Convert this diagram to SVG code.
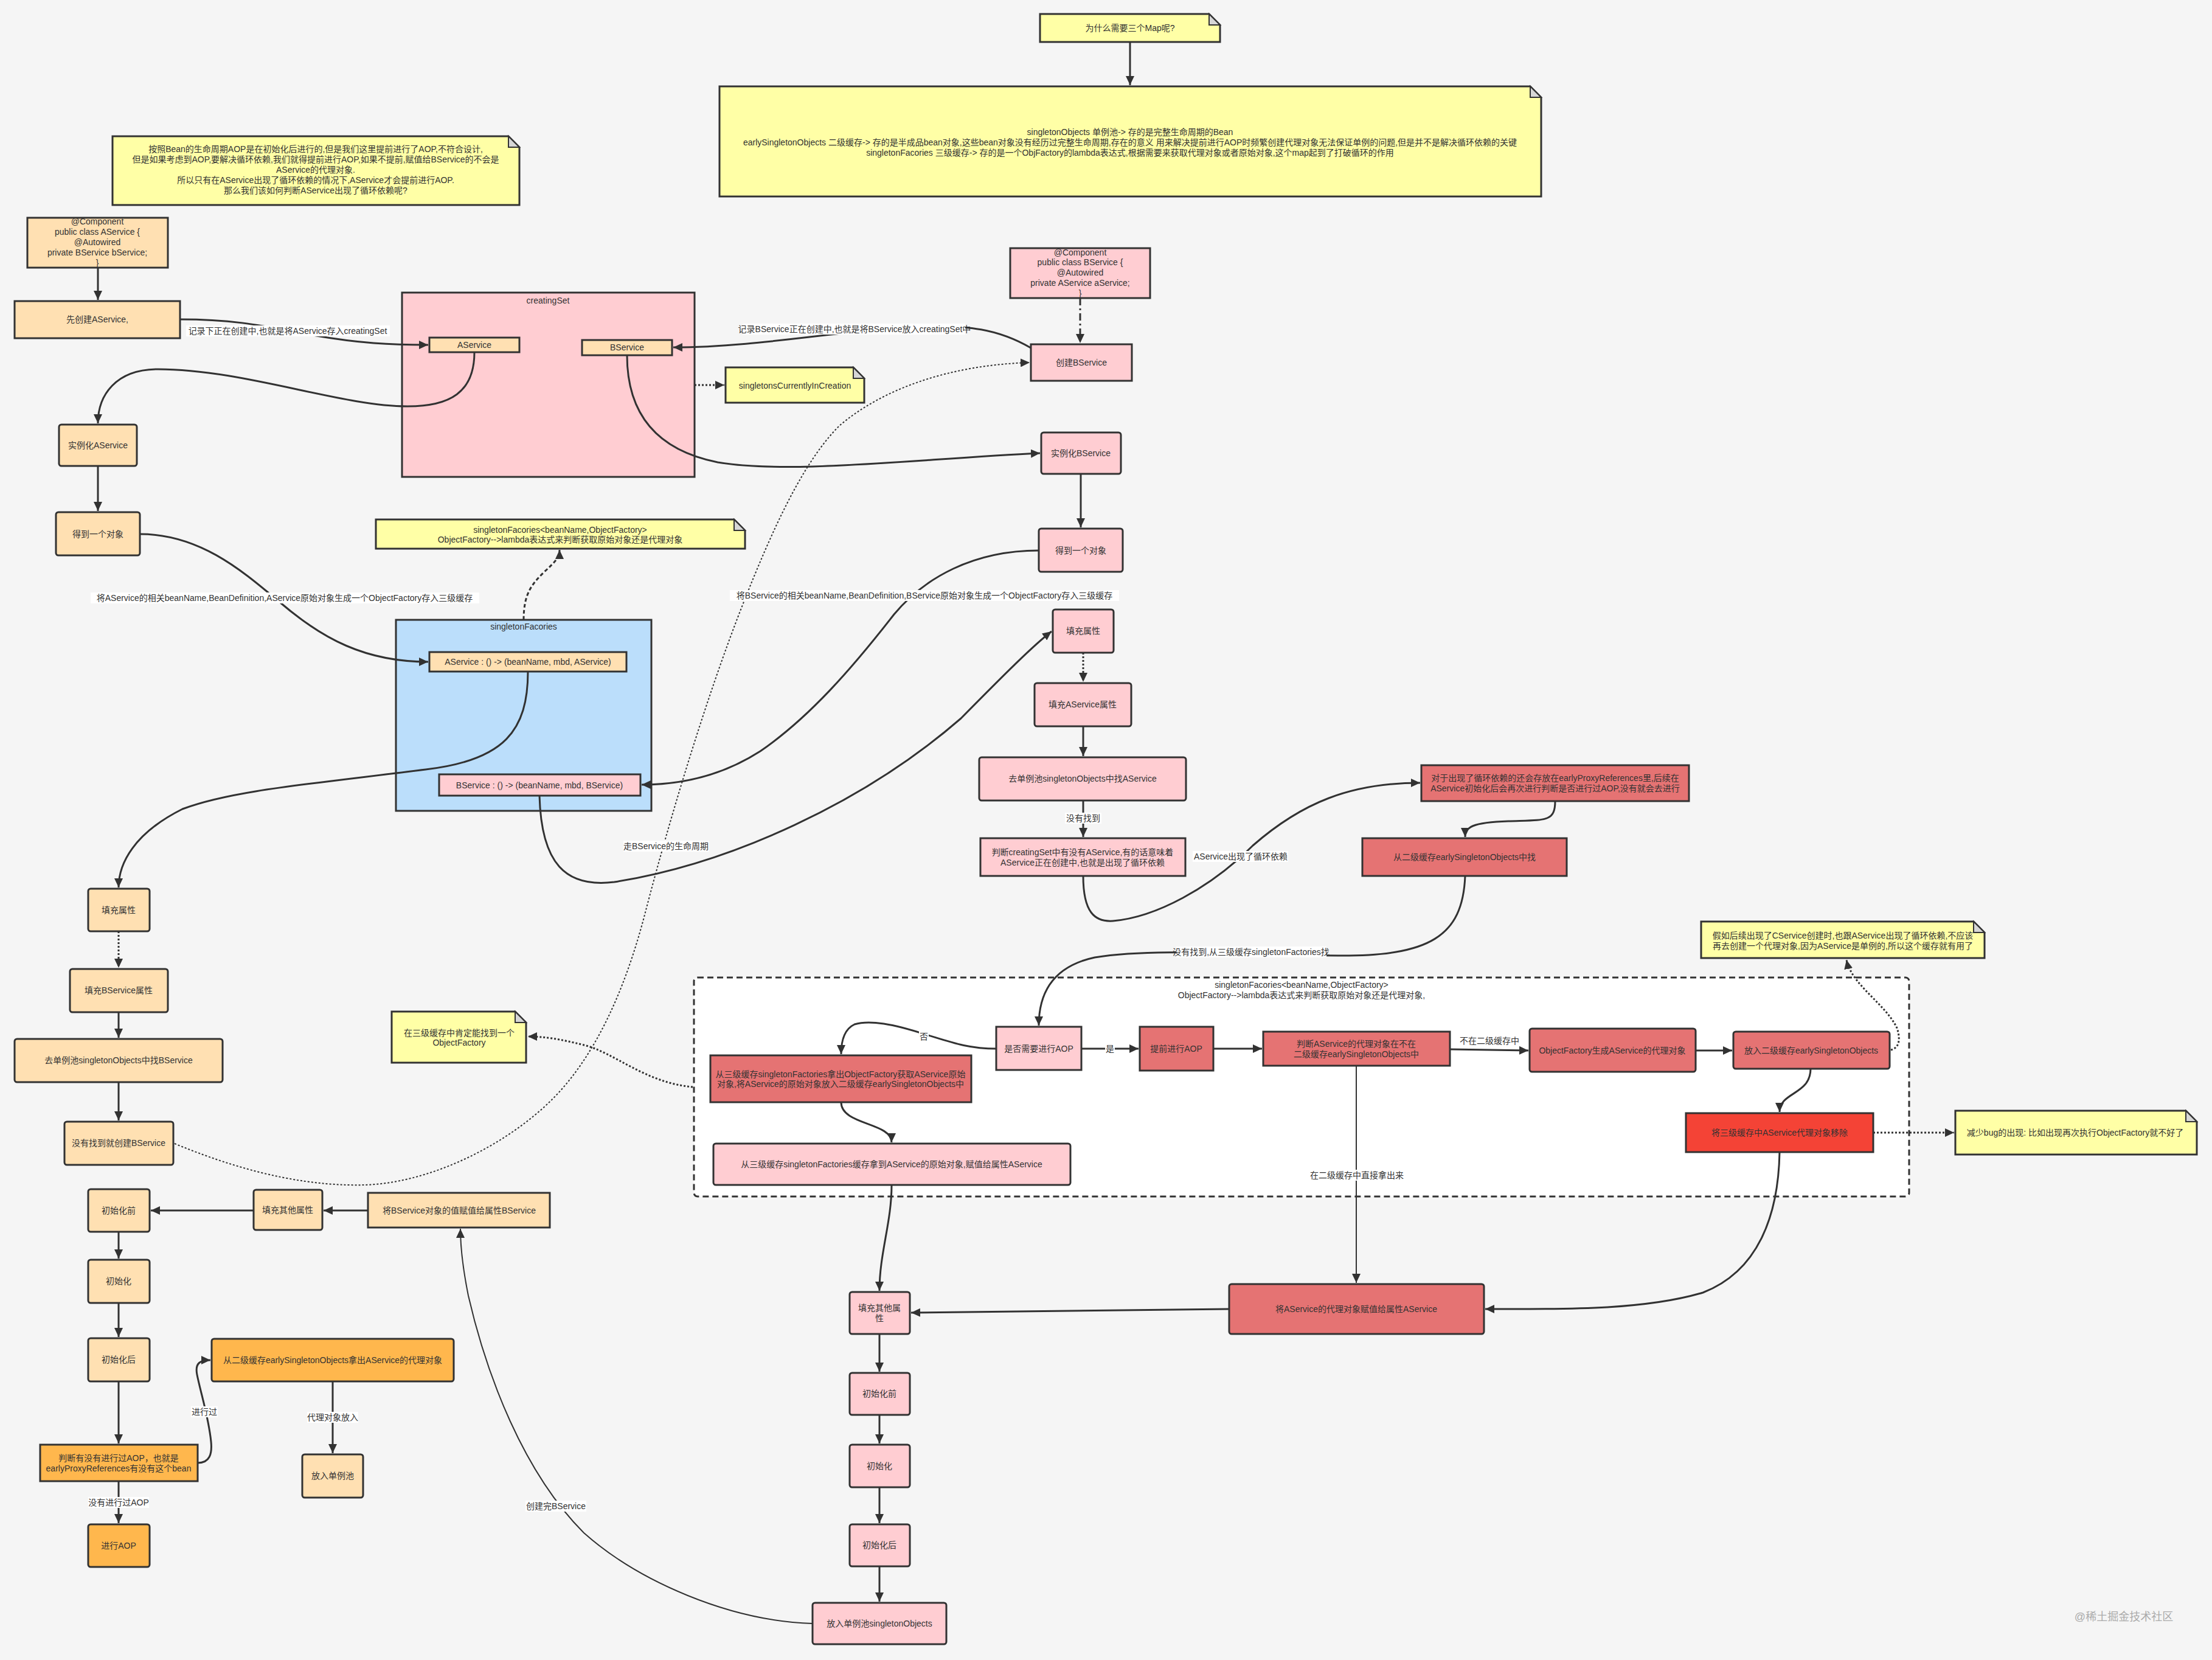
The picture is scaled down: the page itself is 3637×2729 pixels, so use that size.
<svg xmlns="http://www.w3.org/2000/svg" width="3637" height="2729" viewBox="0 0 3637 2729">
<defs>
<style>
text{font-family:"Liberation Sans","Noto Sans CJK SC",sans-serif;font-size:14px;fill:#323232}
.c{text-anchor:middle;dominant-baseline:central}
.box{stroke:#323232;stroke-width:3}
.lo{fill:#FFE0B2}.pk{fill:#FFCDD2}.rd{fill:#E57373}.br{fill:#F44336}.or{fill:#FFB74D}.bl{fill:#BBDEFB}
.note{fill:#FFFFA6;stroke:#323232;stroke-width:3}
.fold{fill:#D6D6D6;stroke:#323232;stroke-width:2}
.e{fill:none;stroke:#323232;stroke-width:3;marker-end:url(#ah)}
.thin{stroke-width:2}
.dot{stroke-dasharray:3 3}
.dash{stroke-dasharray:6 4}
.dd{stroke-dasharray:12 5 3 5}
.lb{fill:#ffffff}
</style>
<marker id="ah" markerUnits="userSpaceOnUse" markerWidth="16" markerHeight="14" refX="15" refY="7" orient="auto"><path d="M0,0 L15,7 L0,14 Z" fill="#323232"/></marker>
</defs>
<rect x="0" y="0" width="3637" height="2729" fill="#F5F5F5"/>

<!-- containers -->
<g id="creatingSet"><rect class="box pk" x="661" y="481" width="481" height="303"/><text class="c" x="901" y="494">creatingSet</text></g>
<g id="singletonFacories"><rect class="box bl" x="651" y="1019" width="420" height="314"/><text class="c" x="861" y="1030">singletonFacories</text></g>
<g id="factoryGroup"><rect x="1141" y="1607" width="1998" height="360" rx="6" fill="#ffffff" stroke="#323232" stroke-width="3" stroke-dasharray="10 6"/>
<text class="c" x="2140" y="1619">singletonFacories&lt;beanName,ObjectFactory&gt;</text>
<text class="c" x="2140" y="1636">ObjectFactory--&gt;lambda表达式来判断获取原始对象还是代理对象,</text></g>

<!-- connectors -->
<g id="connectors">
<path class="e" d="M1858,69 L1858,140"/>
<path class="e" d="M161,440 L161,493"/>
<path class="e" d="M296,525 C400,525 450,540 520,552 C590,564 640,567 704,567"/>
<path class="e" d="M780,579 C780,645 740,668 670,668 C560,668 400,607 260,607 C190,607 161,650 161,696"/>
<path class="e" d="M161,766 L161,840"/>
<path class="e" d="M230,878 C330,878 400,940 460,990 C530,1050 600,1088 704,1088"/>
<path class="e dash" d="M861,1019 C861,975 875,960 895,940 C915,922 920,915 920,904"/>
<path class="e" d="M868,1104 C868,1200 830,1250 700,1265 C500,1290 380,1300 300,1330 C220,1370 195,1420 195,1459"/>
<path class="e dot" d="M195,1531 L195,1591"/>
<path class="e" d="M195,1664 L195,1706"/>
<path class="e" d="M195,1779 L195,1842"/>
<path class="e thin dot" d="M287,1880 C420,1935 520,1950 600,1948 C700,1945 820,1890 900,1815 C980,1740 1030,1620 1061,1500 C1100,1350 1160,1150 1220,997 C1270,870 1320,760 1380,700 C1450,640 1560,600 1693,596"/>
<path class="e dot" d="M1142,633 L1191,633"/>
<path class="e dd" d="M1776,490 L1776,564"/>
<path class="e" d="M1695,572 C1640,540 1590,535 1520,537 C1400,540 1250,571 1107,571"/>
<path class="e" d="M1031,584 C1031,680 1080,740 1180,760 C1300,780 1500,755 1710,745"/>
<path class="e" d="M1777,779 L1777,867"/>
<path class="e" d="M1708,905 C1600,905 1520,950 1470,1010 C1400,1100 1330,1180 1250,1235 C1180,1280 1110,1290 1055,1290"/>
<path class="e" d="M887,1308 C890,1420 930,1460 1010,1450 C1200,1420 1420,1320 1580,1181 C1650,1110 1700,1060 1729,1038"/>
<path class="e dot" d="M1781,1073 L1781,1121"/>
<path class="e" d="M1781,1194 L1781,1243"/>
<path class="e" d="M1781,1316 L1781,1376"/>
<path class="e" d="M1781,1440 C1781,1500 1800,1516 1830,1514 C1900,1508 1990,1460 2060,1390 C2140,1320 2220,1287 2335,1287"/>
<path class="e" d="M2557,1317 C2557,1352 2540,1348 2480,1350 C2420,1352 2409,1360 2409,1376"/>
<path class="e" d="M2409,1440 C2405,1540 2350,1572 2200,1571 C2050,1570 1900,1558 1800,1574 C1725,1590 1708,1640 1708,1686"/>
<path class="e" d="M1638,1724 C1590,1724 1560,1712 1520,1700 C1470,1684 1430,1676 1405,1684 C1388,1692 1383,1712 1383,1733"/>
<path class="e" d="M1778,1724 L1872,1724"/>
<path class="e" d="M1995,1724 L2075,1724"/>
<path class="e" d="M2384,1725 L2513,1727"/>
<path class="e" d="M2788,1727 L2848,1727"/>
<path class="e dot" d="M3109,1726 C3125,1722 3124,1705 3119,1690 C3100,1650 3045,1620 3036,1578"/>
<path class="e" d="M2977,1757 C2977,1800 2926,1795 2926,1828"/>
<path class="e dot" d="M3080,1862 L3213,1862"/>
<path class="e" d="M2926,1894 C2924,2000 2890,2090 2800,2125 C2700,2155 2560,2152 2442,2152"/>
<path class="e thin" d="M2230,1752 L2230,2109"/>
<path class="e" d="M1383,1812 C1383,1850 1466,1845 1466,1878"/>
<path class="e dot" d="M1139,1787 C1060,1780 1010,1730 960,1718 C920,1708 895,1704 868,1704"/>
<path class="e" d="M1466,1948 C1466,2010 1446,2060 1446,2122"/>
<path class="e" d="M2021,2152 L1498,2158"/>
<path class="e" d="M1446,2193 L1446,2255"/>
<path class="e" d="M1446,2326 L1446,2373"/>
<path class="e" d="M1446,2445 L1446,2504"/>
<path class="e" d="M1446,2575 L1446,2633"/>
<path class="e thin" d="M1336,2669 C1200,2665 1050,2600 960,2520 C860,2420 800,2260 770,2130 C760,2080 757,2050 757,2020"/>
<path class="e" d="M605,1990 L532,1990"/>
<path class="e" d="M417,1990 L248,1990"/>
<path class="e" d="M195,2025 L195,2069"/>
<path class="e" d="M195,2142 L195,2198"/>
<path class="e" d="M195,2271 L195,2373"/>
<path class="e" d="M195,2435 L195,2504"/>
<path class="e" d="M325,2405 C345,2405 349,2390 347,2370 C343,2330 330,2290 324,2260 C320,2240 330,2236 346,2236"/>
<path class="e" d="M547,2271 L547,2389"/>

<!-- edge labels -->
<rect class="lb" x="306" y="535" width="335" height="18"/><text class="c" x="473" y="544">记录下正在创建中,也就是将AService存入creatingSet</text>
<rect class="lb" x="1222" y="532" width="365" height="18"/><text class="c" x="1405" y="541">记录BService正在创建中,也就是将BService放入creatingSet中</text>
<rect class="lb" x="149" y="974" width="639" height="18"/><text class="c" x="468" y="983">将AService的相关beanName,BeanDefinition,AService原始对象生成一个ObjectFactory存入三级缓存</text>
<rect class="lb" x="1200" y="970" width="640" height="18"/><text class="c" x="1520" y="979">将BService的相关beanName,BeanDefinition,BService原始对象生成一个ObjectFactory存入三级缓存</text>
<rect class="lb" x="1025" y="1382" width="141" height="18"/><text class="c" x="1095" y="1391">走BService的生命周期</text>
<rect class="lb" x="1751" y="1336" width="60" height="18"/><text class="c" x="1781" y="1345">没有找到</text>
<rect class="lb" x="1961" y="1399" width="157" height="18"/><text class="c" x="2040" y="1408">AService出现了循环依赖</text>
<rect class="lb" x="1934" y="1556" width="247" height="18"/><text class="c" x="2057" y="1565">没有找到,从三级缓存singletonFactories找</text>
<rect class="lb" x="1511" y="1695" width="16" height="18"/><text class="c" x="1519" y="1704">否</text>
<rect class="lb" x="1817" y="1715" width="16" height="18"/><text class="c" x="1825" y="1724">是</text>
<text class="c" x="2449" y="1711">不在二级缓存中</text>
<rect class="lb" x="2154" y="1923" width="154" height="18"/><text class="c" x="2231" y="1932">在二级缓存中直接拿出来</text>
<rect class="lb" x="314" y="2312" width="44" height="18"/><text class="c" x="336" y="2321">进行过</text>
<rect class="lb" x="505" y="2321" width="84" height="18"/><text class="c" x="547" y="2330">代理对象放入</text>
<rect class="lb" x="145" y="2461" width="100" height="18"/><text class="c" x="195" y="2470">没有进行过AOP</text>
<rect class="lb" x="864" y="2467" width="100" height="18"/><text class="c" x="914" y="2476">创建完BService</text>
</g>

<!-- notes -->
<g id="n-why"><path class="note" d="M1710,23 H1988 L2006,41 V69 H1710 Z"/><path class="fold" d="M1988,23 V41 H2006 Z"/><text class="c" x="1858" y="46">为什么需要三个Map呢?</text></g>
<g id="n-three-maps"><path class="note" d="M1183,142 H2516 L2534,160 V323 H1183 Z"/><path class="fold" d="M2516,142 V160 H2534 Z"/>
<text class="c" x="1858" y="217">singletonObjects 单例池-&gt; 存的是完整生命周期的Bean</text>
<text class="c" x="1858" y="234">earlySingletonObjects 二级缓存-&gt; 存的是半成品bean对象,这些bean对象没有经历过完整生命周期,存在的意义 用来解决提前进行AOP时频繁创建代理对象无法保证单例的问题,但是并不是解决循环依赖的关键</text>
<text class="c" x="1858" y="251">singletonFacories 三级缓存-&gt; 存的是一个ObjFactory的lambda表达式,根据需要来获取代理对象或者原始对象,这个map起到了打破循环的作用</text></g>
<g id="n-aop"><path class="note" d="M185,224 H836 L854,242 V337 H185 Z"/><path class="fold" d="M836,224 V242 H854 Z"/>
<text class="c" x="519" y="245">按照Bean的生命周期AOP是在初始化后进行的,但是我们这里提前进行了AOP,不符合设计,</text>
<text class="c" x="519" y="262">但是如果考虑到AOP,要解决循环依赖,我们就得提前进行AOP,如果不提前,赋值给BService的不会是</text>
<text class="c" x="519" y="279">AService的代理对象.</text>
<text class="c" x="519" y="296">所以只有在AService出现了循环依赖的情况下,AService才会提前进行AOP.</text>
<text class="c" x="519" y="313">那么我们该如何判断AService出现了循环依赖呢?</text></g>
<g id="n-in-creation"><path class="note" d="M1193,604 H1403 L1421,622 V662 H1193 Z"/><path class="fold" d="M1403,604 V622 H1421 Z"/><text class="c" x="1307" y="634">singletonsCurrentlyInCreation</text></g>
<g id="n-sf"><path class="note" d="M618,854 H1207 L1225,872 V902 H618 Z"/><path class="fold" d="M1207,854 V872 H1225 Z"/>
<text class="c" x="921" y="871">singletonFacories&lt;beanName,ObjectFactory&gt;</text>
<text class="c" x="921" y="887">ObjectFactory--&gt;lambda表达式来判断获取原始对象还是代理对象</text></g>
<g id="n-sure"><path class="note" d="M644,1663 H847 L865,1681 V1747 H644 Z"/><path class="fold" d="M847,1663 V1681 H865 Z"/>
<text class="c" x="755" y="1698">在三级缓存中肯定能找到一个</text>
<text class="c" x="755" y="1714">ObjectFactory</text></g>
<g id="n-cservice"><path class="note" d="M2797,1515 H3245 L3263,1533 V1575 H2797 Z"/><path class="fold" d="M3245,1515 V1533 H3263 Z"/>
<text class="c" x="3030" y="1538">假如后续出现了CService创建时,也跟AService出现了循环依赖,不应该</text>
<text class="c" x="3030" y="1555">再去创建一个代理对象,因为AService是单例的,所以这个缓存就有用了</text></g>
<g id="n-bug"><path class="note" d="M3215,1826 H3594 L3612,1844 V1898 H3215 Z"/><path class="fold" d="M3594,1826 V1844 H3612 Z"/><text class="c" x="3412" y="1862">减少bug的出现: 比如出现再次执行ObjectFactory就不好了</text></g>

<!-- AService flow -->
<g id="a-code"><rect class="box lo" x="45" y="358" width="231" height="82"/>
<text class="c" x="160" y="364">@Component</text><text class="c" x="160" y="381">public class AService {</text><text class="c" x="160" y="398">@Autowired</text><text class="c" x="160" y="415">private BService bService;</text><text class="c" x="160" y="432">}</text></g>
<g id="a-create"><rect class="box lo" x="24" y="495" width="272" height="61"/><text class="c" x="160" y="525">先创建AService,</text></g>
<g id="set-a"><rect class="box lo" x="706" y="555" width="148" height="24"/><text class="c" x="780" y="567">AService</text></g>
<g id="set-b"><rect class="box lo" x="957" y="559" width="148" height="25"/><text class="c" x="1031" y="571">BService</text></g>
<g id="a-inst"><rect class="box lo" x="97" y="698" width="128" height="68" rx="4"/><text class="c" x="161" y="732">实例化AService</text></g>
<g id="a-get"><rect class="box lo" x="92" y="842" width="138" height="71" rx="4"/><text class="c" x="161" y="878">得到一个对象</text></g>
<g id="sf-a"><rect class="box lo" x="706" y="1072" width="324" height="32"/><text class="c" x="868" y="1088">AService : () -&gt; (beanName, mbd, AService)</text></g>
<g id="sf-b"><rect class="box pk" x="722" y="1273" width="331" height="35"/><text class="c" x="887" y="1291">BService : () -&gt; (beanName, mbd, BService)</text></g>
<g id="a-fill"><rect class="box lo" x="145" y="1461" width="101" height="70" rx="4"/><text class="c" x="195" y="1496">填充属性</text></g>
<g id="a-fill-b"><rect class="box lo" x="115" y="1593" width="161" height="71" rx="4"/><text class="c" x="195" y="1628">填充BService属性</text></g>
<g id="a-find-b"><rect class="box lo" x="24" y="1708" width="342" height="71" rx="4"/><text class="c" x="195" y="1743">去单例池singletonObjects中找BService</text></g>
<g id="a-create-b"><rect class="box lo" x="106" y="1844" width="179" height="71" rx="4"/><text class="c" x="195" y="1879">没有找到就创建BService</text></g>
<g id="a-preinit"><rect class="box lo" x="145" y="1955" width="101" height="70" rx="4"/><text class="c" x="195" y="1990">初始化前</text></g>
<g id="a-fill-other"><rect class="box lo" x="417" y="1956" width="113" height="66" rx="4"/><text class="c" x="473" y="1989">填充其他属性</text></g>
<g id="a-assign-b"><rect class="box lo" x="605" y="1961" width="299" height="57"/><text class="c" x="755" y="1990">将BService对象的值赋值给属性BService</text></g>
<g id="a-init"><rect class="box lo" x="145" y="2071" width="101" height="71" rx="4"/><text class="c" x="195" y="2106">初始化</text></g>
<g id="a-postinit"><rect class="box lo" x="145" y="2200" width="101" height="71" rx="4"/><text class="c" x="195" y="2235">初始化后</text></g>
<g id="a-check-aop"><rect class="box or" x="66" y="2375" width="259" height="60"/><text class="c" x="195" y="2397">判断有没有进行过AOP，也就是</text><text class="c" x="195" y="2414">earlyProxyReferences有没有这个bean</text></g>
<g id="a-do-aop"><rect class="box or" x="145" y="2506" width="101" height="70" rx="4"/><text class="c" x="195" y="2541">进行AOP</text></g>
<g id="a-get-proxy"><rect class="box or" x="348" y="2201" width="398" height="70" rx="4"/><text class="c" x="547" y="2236">从二级缓存earlySingletonObjects拿出AService的代理对象</text></g>
<g id="a-pool"><rect class="box lo" x="497" y="2391" width="100" height="71" rx="4"/><text class="c" x="547" y="2426">放入单例池</text></g>

<!-- BService flow -->
<g id="b-code"><rect class="box pk" x="1661" y="408" width="230" height="82"/>
<text class="c" x="1776" y="415">@Component</text><text class="c" x="1776" y="431">public class BService {</text><text class="c" x="1776" y="448">@Autowired</text><text class="c" x="1776" y="465">private AService aService;</text><text class="c" x="1776" y="482">}</text></g>
<g id="b-create"><rect class="box pk" x="1695" y="566" width="166" height="60"/><text class="c" x="1778" y="596">创建BService</text></g>
<g id="b-inst"><rect class="box pk" x="1712" y="711" width="131" height="68" rx="4"/><text class="c" x="1777" y="745">实例化BService</text></g>
<g id="b-get"><rect class="box pk" x="1708" y="869" width="138" height="71" rx="4"/><text class="c" x="1777" y="905">得到一个对象</text></g>
<g id="b-fill"><rect class="box pk" x="1731" y="1002" width="100" height="71" rx="4"/><text class="c" x="1781" y="1037">填充属性</text></g>
<g id="b-fill-a"><rect class="box pk" x="1701" y="1123" width="159" height="71" rx="4"/><text class="c" x="1780" y="1158">填充AService属性</text></g>
<g id="b-find-a"><rect class="box pk" x="1610" y="1245" width="340" height="71" rx="4"/><text class="c" x="1780" y="1280">去单例池singletonObjects中找AService</text></g>
<g id="b-check-set"><rect class="box pk" x="1612" y="1378" width="337" height="62"/><text class="c" x="1780" y="1401">判断creatingSet中有没有AService,有的话意味着</text><text class="c" x="1780" y="1418">AService正在创建中,也就是出现了循环依赖</text></g>
<g id="early-proxy-ref"><rect class="box rd" x="2337" y="1258" width="440" height="59"/><text class="c" x="2557" y="1279">对于出现了循环依赖的还会存放在earlyProxyReferences里,后续在</text><text class="c" x="2557" y="1296">AService初始化后会再次进行判断是否进行过AOP,没有就会去进行</text></g>
<g id="from-early"><rect class="box rd" x="2240" y="1378" width="336" height="62"/><text class="c" x="2408" y="1409">从二级缓存earlySingletonObjects中找</text></g>
<g id="need-aop"><rect class="box pk" x="1638" y="1688" width="140" height="71"/><text class="c" x="1708" y="1724">是否需要进行AOP</text></g>
<g id="early-aop"><rect class="box rd" x="1874" y="1688" width="121" height="72"/><text class="c" x="1934" y="1724">提前进行AOP</text></g>
<g id="in-early"><rect class="box rd" x="2077" y="1696" width="307" height="56"/><text class="c" x="2230" y="1716">判断AService的代理对象在不在</text><text class="c" x="2230" y="1733">二级缓存earlySingletonObjects中</text></g>
<g id="of-proxy"><rect class="box rd" x="2515" y="1691" width="273" height="71" rx="4"/><text class="c" x="2651" y="1727">ObjectFactory生成AService的代理对象</text></g>
<g id="put-early"><rect class="box rd" x="2850" y="1696" width="257" height="61" rx="4"/><text class="c" x="2978" y="1727">放入二级缓存earlySingletonObjects</text></g>
<g id="remove-3rd"><rect class="box br" x="2772" y="1830" width="308" height="64"/><text class="c" x="2926" y="1862">将三级缓存中AService代理对象移除</text></g>
<g id="from-3rd-take"><rect class="box rd" x="1168" y="1735" width="429" height="77"/><text class="c" x="1382" y="1766">从三级缓存singletonFactories拿出ObjectFactory获取AService原始</text><text class="c" x="1382" y="1782">对象,将AService的原始对象放入二级缓存earlySingletonObjects中</text></g>
<g id="from-3rd-get"><rect class="box pk" x="1173" y="1880" width="587" height="68" rx="4"/><text class="c" x="1466" y="1914">从三级缓存singletonFactories缓存拿到AService的原始对象,赋值给属性AService</text></g>
<g id="assign-proxy"><rect class="box rd" x="2021" y="2111" width="419" height="82" rx="4"/><text class="c" x="2230" y="2152">将AService的代理对象赋值给属性AService</text></g>
<g id="b-fill-other"><rect class="box pk" x="1397" y="2124" width="99" height="69" rx="4"/><text class="c" x="1446" y="2150">填充其他属</text><text class="c" x="1446" y="2167">性</text></g>
<g id="b-preinit"><rect class="box pk" x="1397" y="2257" width="99" height="69" rx="4"/><text class="c" x="1446" y="2291">初始化前</text></g>
<g id="b-init"><rect class="box pk" x="1397" y="2375" width="99" height="70" rx="4"/><text class="c" x="1446" y="2410">初始化</text></g>
<g id="b-postinit"><rect class="box pk" x="1397" y="2506" width="99" height="69" rx="4"/><text class="c" x="1446" y="2540">初始化后</text></g>
<g id="b-pool"><rect class="box pk" x="1336" y="2635" width="220" height="68" rx="4"/><text class="c" x="1446" y="2669">放入单例池singletonObjects</text></g>

<text class="c" x="3492" y="2658" style="font-size:18px;fill:#ABABAB">@稀土掘金技术社区</text>
</svg>
